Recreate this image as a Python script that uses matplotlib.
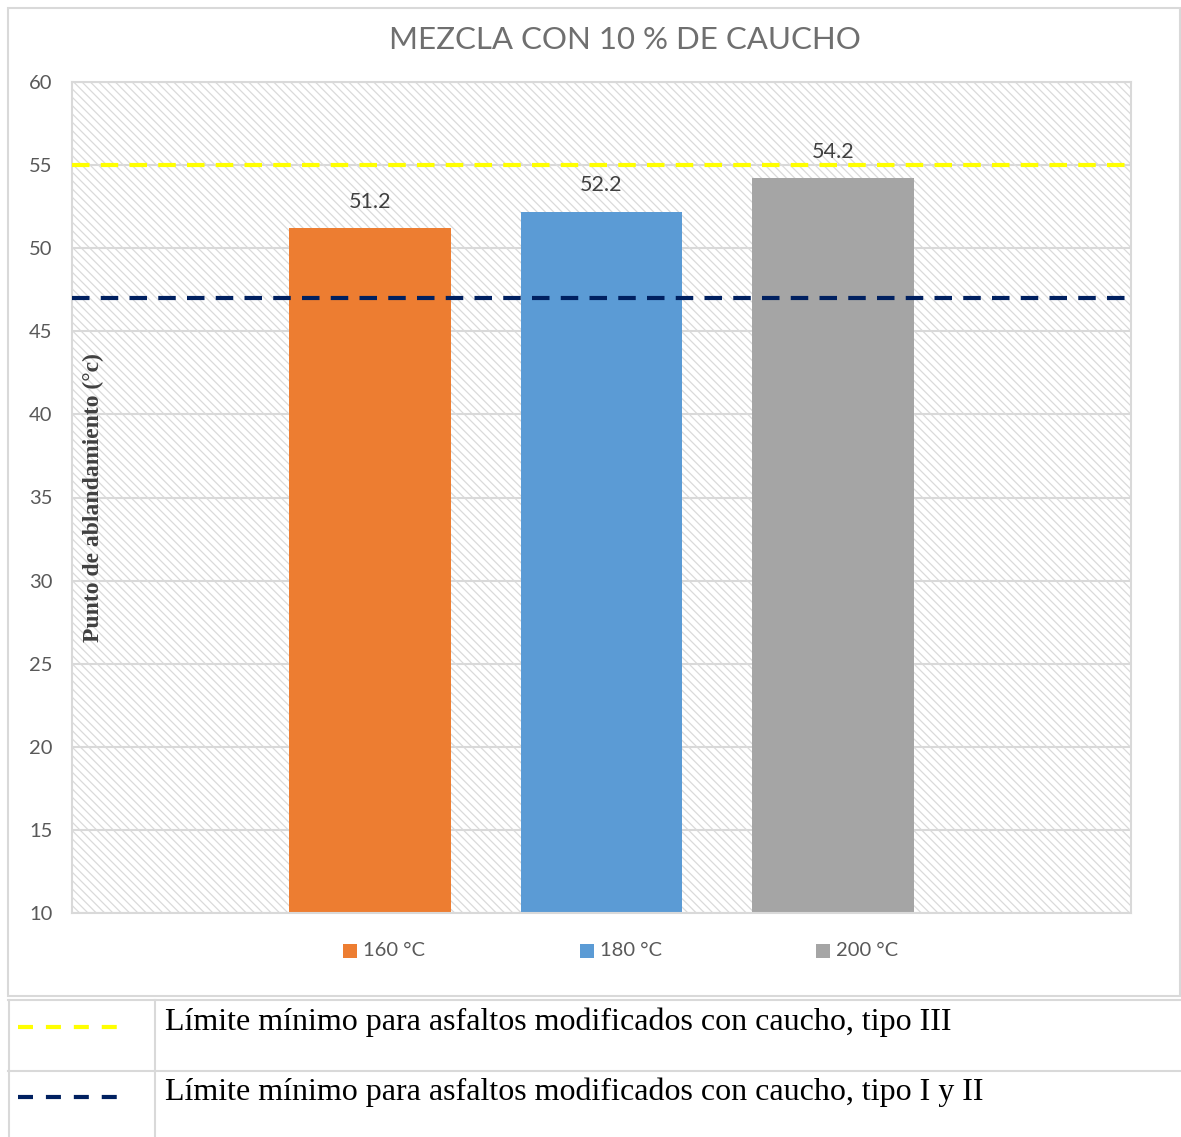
import matplotlib
matplotlib.use('Agg')
import matplotlib.pyplot as plt
from matplotlib.patches import Rectangle
from matplotlib.lines import Line2D

# softening point per mixing temperature (10 % rubber)
series = ["160 °C", "180 °C", "200 °C"]
values = [51.2, 52.2, 54.2]
colors = ["#ED7D31", "#5B9BD5", "#A5A5A5"]

# minimum limits for rubber-modified asphalts
limit_tipo3 = 55
limit_tipo12 = 47
limit_labels = ["Límite mínimo para asfaltos modificados con caucho, tipo III",
                "Límite mínimo para asfaltos modificados con caucho, tipo I y II"]

yticks = list(range(10, 61, 5))

W, H = 1181, 1137
fig = plt.figure(figsize=(W / 100, H / 100), dpi=100)
fig.patch.set_facecolor("white")

def fx(px):
    return px / W

def fy(py):
    return 1 - py / H

# chart frame
fig.add_artist(Rectangle((fx(8), fy(996)), fx(1180) - fx(8), fy(8) - fy(996),
                         transform=fig.transFigure, fill=False,
                         edgecolor="#d9d9d9", lw=1.5))

ax = fig.add_axes([fx(72), fy(913), fx(1131) - fx(72), fy(82) - fy(913)])
ax.set_facecolor("white")

# hatched plot background
plt.rcParams['hatch.linewidth'] = 0.9
bg = Rectangle((0, 0), 1, 1, transform=ax.transAxes, facecolor="white",
               edgecolor="#dadada", hatch="\\\\\\\\", lw=0, zorder=0)
ax.add_patch(bg)

ax.set_ylim(10, 60)
ax.set_yticks(yticks)
ax.yaxis.grid(True, color="#d9d9d9", lw=1.5, zorder=1)
ax.set_axisbelow(True)

width = 162 / 232
xs = [-1, 0, 1]
for x, v, c, lab in zip(xs, values, colors, series):
    ax.bar(x, v - 10, bottom=10, width=width, color=c, zorder=2, label=lab)
    ax.annotate(f"{v}", (x, v), xytext=(0, 12), textcoords="offset points",
                ha="center", va="bottom", fontsize=15.5, color="#404040",
                family="Lato")
ax.set_xlim(-2.284, 2.284)
ax.set_xticks([])

ax.axhline(limit_tipo3, color="#FFFF00", lw=3, linestyle=(0, (4.2, 2.7)), zorder=3)
ax.axhline(limit_tipo12, color="#002060", lw=3, linestyle=(0, (4.2, 2.7)), zorder=3)

for s in ax.spines.values():
    s.set_color("#d9d9d9")
    s.set_linewidth(1.5)
ax.tick_params(axis="y", length=0, pad=14, labelsize=14.5, labelcolor="#595959")
for t in ax.get_yticklabels():
    t.set_family("Lato")

ax.text(0.02, 0.5, "Punto de ablandamiento (°c)", transform=ax.transAxes,
        rotation=90, ha="center", va="center", fontsize=17, fontweight="bold",
        family="Liberation Serif", color="#404040", zorder=4)

fig.text(fx(625), fy(40), "MEZCLA CON 10 % DE CAUCHO", ha="center", va="center",
         fontsize=22.5, color="#6f6f6f", family="Lato")

# series legend under the plot
legx = [343, 580, 816]
for lx, c, lab in zip(legx, colors, series):
    fig.add_artist(Rectangle((fx(lx), fy(958)), fx(14), 14 / H,
                             transform=fig.transFigure, facecolor=c, lw=0))
    fig.text(fx(lx + 20), fy(951), lab, ha="left", va="center", fontsize=14.5,
             color="#595959", family="Lato")

# table with the limit lines
tc = "#d9d9d9"
for yy in [1000, 1071]:
    fig.add_artist(Line2D([fx(8), 1], [fy(yy), fy(yy)], color=tc, lw=1.5))
for xx in [9, 155]:
    fig.add_artist(Line2D([fx(xx), fx(xx)], [fy(1000), 0], color=tc, lw=1.5))

for yy, c, lab in zip([1027, 1097], ["#FFFF00", "#002060"], limit_labels):
    fig.add_artist(Line2D([fx(18), fx(118)], [fy(yy), fy(yy)], color=c, lw=3,
                          linestyle=(0, (3.6, 3.1))))
    fig.text(fx(165), fy(yy - 5), lab, ha="left", va="center", fontsize=23,
             family="Liberation Serif", color="black")

fig.savefig("out.png", dpi=100, facecolor="white")
